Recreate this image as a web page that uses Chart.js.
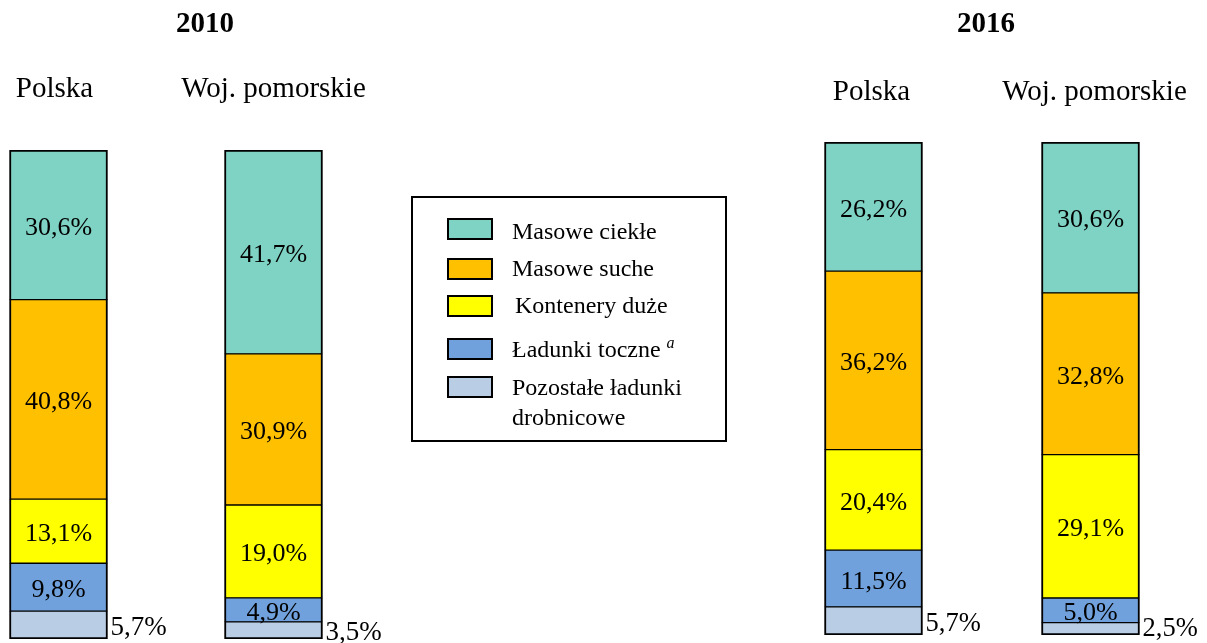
<!DOCTYPE html>
<html><head><meta charset="utf-8">
<script src="https://cdn.jsdelivr.net/npm/chart.js@4.4.1/dist/chart.umd.min.js"></script>
<style>
html,body{margin:0;padding:0;background:#fff;overflow:hidden;width:1207px;height:643px;position:relative;}
#c2010{position:absolute;left:-49px;top:0;}
#c2016{position:absolute;left:765px;top:0;}
</style></head><body>
<canvas id="c2010" width="779" height="643"></canvas>
<canvas id="c2016" width="434" height="643"></canvas>
<script>
// Data: order of columns = 2010 Polska, 2010 Woj. pomorskie, 2016 Polska, 2016 Woj. pomorskie
const years = ['2010', '2016'];
const regions = ['Polska', 'Woj. pomorskie'];
const seriesNames = ['Masowe ciekłe', 'Masowe suche', 'Kontenery duże', 'Ładunki toczne', 'Pozostałe ładunki drobnicowe'];
const seriesColors = ['#7fd3c4', '#ffc000', '#ffff00', '#71a1dc', '#b9cde4'];
const masoweCiekle = [30.6, 41.7, 26.2, 30.6];
const masoweSuche = [40.8, 30.9, 36.2, 32.8];
const konteneryDuze = [13.1, 19.0, 20.4, 29.1];
const ladunkiToczne = [9.8, 4.9, 11.5, 5.0];
const pozostale = [5.7, 3.5, 5.7, 2.5];
const seriesValues = [masoweCiekle, masoweSuche, konteneryDuze, ladunkiToczne, pozostale];

const FONT = "'Liberation Serif', 'Times New Roman', serif";
Chart.defaults.font.family = FONT;

function fmt(v) { return v.toFixed(1).replace('.', ',') + '%'; }

function buildDatasets(offset) {
  const ds = [];
  // bottom of stack first
  for (let s = seriesNames.length - 1; s >= 0; s--) {
    ds.push({
      label: seriesNames[s],
      seriesIndex: s,
      data: seriesValues[s].slice(offset, offset + 2),
      backgroundColor: seriesColors[s],
      borderColor: '#000',
      borderSkipped: false,
      borderWidth: {
        left: 2, right: 2,
        top: s === 0 ? 2 : 1,
        bottom: s === seriesNames.length - 1 ? 2 : 1
      },
      barThickness: 98
    });
  }
  return ds;
}

function makePlugin(cfg) {
  return {
    id: 'deco' + cfg.year,
    afterDatasetsDraw(chart) {
      const ctx = chart.ctx;
      const dx = cfg.canvasLeft;
      ctx.save();
      ctx.fillStyle = '#000';
      // year title
      ctx.font = 'bold 29px ' + FONT;
      ctx.textAlign = 'center';
      ctx.textBaseline = 'alphabetic';
      ctx.fillText(cfg.year, cfg.titleX - dx, 32);
      // region labels
      ctx.font = '29px ' + FONT;
      const xs = chart.scales.x;
      regions.forEach((r, i) => {
        ctx.fillText(r, xs.getPixelForValue(i) + cfg.labelShift[i], cfg.labelBaseline);
      });
      // value labels
      chart.data.datasets.forEach((d, di) => {
        const meta = chart.getDatasetMeta(di);
        meta.data.forEach((el, j) => {
          const v = d.data[j];
          const top = Math.min(el.y, el.base), bot = Math.max(el.y, el.base);
          const mid = (top + bot) / 2;
          if (d.seriesIndex === seriesNames.length - 1) {
            ctx.font = cfg.outsideFont + 'px ' + FONT;
            ctx.textAlign = 'left';
            ctx.fillText(fmt(v), el.x + el.width / 2 + 3, Math.min(mid + 10, bot + 1));
          } else {
            ctx.font = '26px ' + FONT;
            ctx.textAlign = 'center';
            ctx.fillText(fmt(v), el.x, mid + 10);
          }
        });
      });
      // legend
      if (cfg.legend) {
        const L = cfg.legend;
        ctx.lineWidth = 2;
        ctx.strokeStyle = '#000';
        ctx.strokeRect(L.x - dx, L.y, L.w, L.h);
        ctx.font = '24px ' + FONT;
        ctx.textAlign = 'left';
        seriesNames.forEach((name, s) => {
          ctx.fillStyle = seriesColors[s];
          ctx.fillRect(L.swX - dx, L.swTops[s], L.swW, L.swH);
          ctx.strokeRect(L.swX - dx, L.swTops[s], L.swW, L.swH);
          ctx.fillStyle = '#000';
          const tx = L.textX[s] - dx;
          if (s === seriesNames.length - 1) {
            ctx.fillText('Pozostałe ładunki', tx, L.baselines[s]);
            ctx.fillText('drobnicowe', tx, L.baselines[s] + 30);
          } else {
            ctx.fillText(name, tx, L.baselines[s]);
            if (s === 3) {
              const w = ctx.measureText(name).width;
              ctx.font = 'italic 16px ' + FONT;
              ctx.fillText('a', tx + w + 6, L.baselines[s] - 9);
              ctx.font = '24px ' + FONT;
            }
          }
        });
      }
      ctx.restore();
    }
  };
}

function makeChart(id, offset, cfg, padding) {
  return new Chart(document.getElementById(id), {
    type: 'bar',
    data: { labels: regions, datasets: buildDatasets(offset) },
    options: {
      responsive: false,
      animation: false,
      layout: { padding: padding },
      plugins: { legend: { display: false }, tooltip: { enabled: false } },
      scales: {
        x: { stacked: true, display: false, offset: true },
        y: { stacked: true, display: false, min: 0, max: 100 }
      }
    },
    plugins: [makePlugin(cfg)]
  });
}

makeChart('c2010', 0, {
  year: years[0], canvasLeft: -49, titleX: 205, labelBaseline: 97, labelShift: [-4, 0], outsideFont: 27,
  legend: {
    x: 412, y: 197, w: 314, h: 244,
    swX: 448, swW: 44, swH: 20, swTops: [219, 259, 296, 339, 377],
    textX: [512, 512, 515, 512, 512],
    baselines: [239, 276, 313, 357, 395]
  }
}, { top: 150, bottom: 4, left: 0, right: 349 });

makeChart('c2016', 2, {
  year: years[1], canvasLeft: 765, titleX: 986, labelBaseline: 100, labelShift: [-2, 4], outsideFont: 26.5
}, { top: 142, bottom: 8, left: 0, right: 0 });
</script>
</body></html>
